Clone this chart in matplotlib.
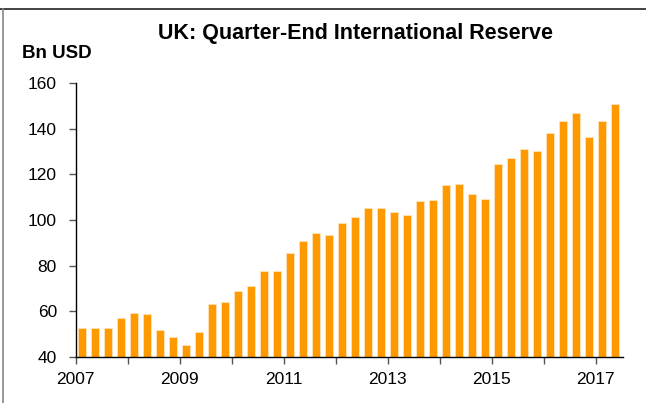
import numpy
import matplotlib
matplotlib.use('Agg')
import matplotlib.pyplot as plt
from matplotlib.lines import Line2D

# Quarter-end reserves, 2007 Q1 .. 2017 Q2 (Bn USD)
start_year = 2007
reserves = [52.7, 52.7, 52.7, 57.1, 59.1, 58.8, 52.0, 48.9, 45.3, 50.8,
            63.0, 64.1, 68.9, 70.9, 77.5, 77.8, 85.5, 90.8, 94.1, 93.4,
            98.6, 101.1, 105.1, 105.1, 103.6, 102.0, 108.3, 108.7, 115.1, 115.8,
            111.3, 109.0, 124.5, 127.1, 130.9, 130.3, 137.9, 143.3, 146.6, 136.4,
            143.3, 150.6]
year_ticks = list(range(2007, 2018))
year_labels = [str(y) if y % 2 == 1 else '' for y in year_ticks]
y_ticks = [40, 60, 80, 100, 120, 140, 160]

plt.rcParams['font.family'] = ['Liberation Sans', 'DejaVu Sans']

fig = plt.figure(figsize=(6.46, 4.03), dpi=100)
ax = fig.add_axes([0.1172, 0.1141, 0.8467, 0.6804])

# bar centres sit in the middle of each quarter
x = start_year + (numpy.arange(len(reserves)) + 0.5) * 0.25
ax.bar(x, numpy.array(reserves) - 40, bottom=40, width=0.16,
       color='#FF9900', edgecolor='#FFE3B8', linewidth=0.6)

ax.set_xlim(2007, 2017.52)
ax.set_ylim(40, 160)
ax.set_xticks(year_ticks)
ax.set_xticklabels(year_labels)
ax.set_yticks(y_ticks)

for side in ['top', 'right']:
    ax.spines[side].set_visible(False)
for side in ['left', 'bottom']:
    ax.spines[side].set_color('black')
    ax.spines[side].set_linewidth(1.0)

ax.tick_params(axis='both', direction='out', length=5, width=1.0,
               color='#555555', labelsize=12.5, labelcolor='black')
ax.tick_params(axis='x', pad=6)
ax.tick_params(axis='y', pad=8.5)

fig.text(0.551, 0.916, 'UK: Quarter-End International Reserve',
         ha='center', va='center', fontsize=15.5, fontweight='bold')
fig.text(0.034, 0.867, 'Bn USD', ha='left', va='center',
         fontsize=13.5, fontweight='bold')

# thin frame lines at the top and left edges of the picture
fig.add_artist(Line2D([0.0, 1.0], [1 - 9 / 403, 1 - 9 / 403], transform=fig.transFigure,
                      color='#222222', linewidth=1.2))
fig.add_artist(Line2D([3 / 646, 3 / 646], [0.0, 1 - 9 / 403], transform=fig.transFigure,
                      color='#888888', linewidth=1.2))

fig.savefig('out.png', dpi=100)
